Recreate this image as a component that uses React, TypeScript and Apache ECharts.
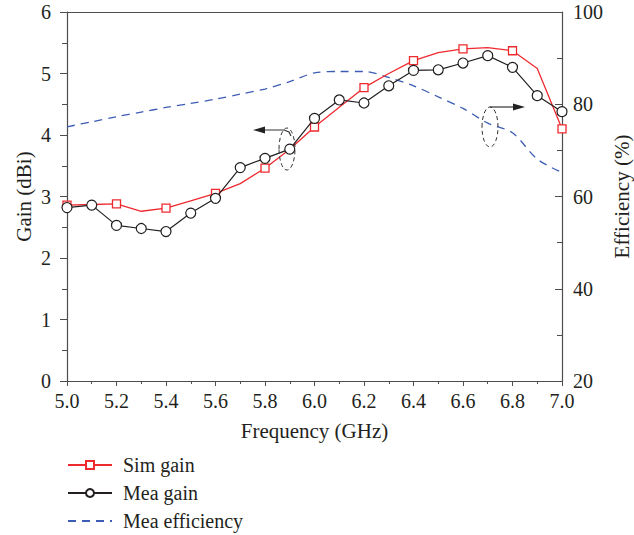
import React, { useEffect, useRef } from "react";
import * as echarts from "echarts";

const freq = [5.0, 5.1, 5.2, 5.3, 5.4, 5.5, 5.6, 5.7, 5.8, 5.9, 6.0, 6.1, 6.2, 6.3, 6.4, 6.5, 6.6, 6.7, 6.8, 6.9, 7.0];
const simGain = [2.86, 2.87, 2.88, 2.76, 2.81, 2.93, 3.05, 3.21, 3.46, 3.77, 4.13, 4.45, 4.77, 5.0, 5.21, 5.34, 5.4, 5.42, 5.37, 5.08, 4.1];
const meaGain = [2.82, 2.86, 2.53, 2.48, 2.43, 2.73, 2.97, 3.47, 3.62, 3.77, 4.27, 4.57, 4.52, 4.8, 5.05, 5.06, 5.17, 5.29, 5.1, 4.64, 4.38];
const meaEff = [75.1, 76.2, 77.3, 78.3, 79.3, 80.2, 81.1, 82.2, 83.3, 84.9, 86.8, 87.1, 87.1, 85.8, 84.0, 81.6, 79.1, 75.9, 73.8, 68.1, 65.2];
const seriesNames = ["Sim gain", "Mea gain", "Mea efficiency"];

const FONT = "'Liberation Serif', 'Times New Roman', serif";
const TXT = "#231f20";
const AX = "#4d4d4d";
const RED = "#ee2a2f";
const BLK = "#231f20";
const BLUE = "#3d5cb4";

export default function App() {
  const ref = useRef<HTMLDivElement>(null);
  useEffect(() => {
    if (!ref.current) return;
    const chart = echarts.init(ref.current, null, { renderer: "svg", width: 634, height: 535 });
    const axisLabel = { color: TXT, fontFamily: FONT, fontSize: 20 };
    const nameStyle = { color: TXT, fontFamily: FONT, fontSize: 21 };
    const dash = { stroke: "#333", lineWidth: 1, lineDash: [4, 3], fill: "none" };
    const solid = { stroke: "#333", lineWidth: 1.2, fill: "none" };
    chart.setOption({
      animation: false,
      backgroundColor: "#fff",
      grid: { left: 67, right: 72, top: 12, bottom: 154, containLabel: false, outerBoundsMode: "none" },
      legend: {
        orient: "vertical",
        left: 67,
        top: 454,
        padding: 0,
        itemWidth: 44,
        itemHeight: 10,
        itemGap: 6,
        textStyle: { color: TXT, fontFamily: FONT, fontSize: 20, lineHeight: 22, padding: [0, 0, 0, 6] },
        data: seriesNames,
      },
      xAxis: [
        {
          type: "value",
          min: 5,
          max: 7,
          interval: 0.2,
          name: "Frequency (GHz)",
          nameLocation: "middle",
          nameGap: 39,
          nameMoveOverlap: false,
          nameTextStyle: nameStyle,
          axisLine: { lineStyle: { color: AX, width: 1.2 } },
          axisTick: { inside: false, length: 5, lineStyle: { color: AX } },
          minorTick: { show: true, splitNumber: 2, length: 3, lineStyle: { color: AX } },
          axisLabel: { ...axisLabel, margin: 10, formatter: (v: number) => v.toFixed(1) },
          splitLine: { show: false },
        },
        {
          type: "value",
          position: "top",
          min: 5,
          max: 7,
          axisLine: { show: true, lineStyle: { color: AX, width: 1.2 } },
          axisTick: { show: false },
          axisLabel: { show: false },
          splitLine: { show: false },
        },
      ],
      yAxis: [
        {
          type: "value",
          min: 0,
          max: 6,
          interval: 1,
          name: "Gain (dBi)",
          nameLocation: "middle",
          nameGap: 33,
          nameMoveOverlap: false,
          nameTextStyle: nameStyle,
          axisLine: { show: true, lineStyle: { color: AX, width: 1.2 } },
          axisTick: { inside: false, length: 7, lineStyle: { color: AX } },
          minorTick: { show: true, splitNumber: 2, length: 5, lineStyle: { color: AX } },
          axisLabel: { ...axisLabel, margin: 16 },
          splitLine: { show: false },
        },
        {
          type: "value",
          min: 20,
          max: 100,
          interval: 20,
          position: "right",
          name: "Efficiency (%)",
          nameLocation: "middle",
          nameGap: 49,
          nameMoveOverlap: false,
          nameTextStyle: nameStyle,
          axisLine: { show: true, lineStyle: { color: AX, width: 1.2 } },
          axisTick: { inside: true, length: 7, lineStyle: { color: AX } },
          minorTick: { show: true, splitNumber: 2, length: 5, lineStyle: { color: AX } },
          axisLabel: { ...axisLabel, margin: 11 },
          splitLine: { show: false },
        },
      ],
      series: [
        {
          name: seriesNames[0],
          type: "line",
          xAxisIndex: 0,
          yAxisIndex: 0,
          symbol: "rect",
          symbolSize: 8,
          z: 3,
          lineStyle: { color: RED, width: 1.3 },
          itemStyle: { color: "#fff", borderColor: RED, borderWidth: 1.3 },
          data: freq.map((f, i) => (i % 2 === 0 ? { value: [f, simGain[i]] } : { value: [f, simGain[i]], symbol: "none" })),
        },
        {
          name: seriesNames[1],
          type: "line",
          xAxisIndex: 0,
          yAxisIndex: 0,
          symbol: "circle",
          symbolSize: 10,
          z: 4,
          lineStyle: { color: BLK, width: 1.2 },
          itemStyle: { color: "#fff", borderColor: BLK, borderWidth: 1.2 },
          data: freq.map((f, i) => [f, meaGain[i]]),
        },
        {
          name: seriesNames[2],
          type: "line",
          xAxisIndex: 0,
          yAxisIndex: 1,
          symbol: "none",
          smooth: 0.3,
          z: 2,
          lineStyle: { color: BLUE, width: 1.3, type: [8, 6] },
          itemStyle: { color: "transparent", borderColor: "transparent", borderWidth: 0 },
          data: freq.map((f, i) => [f, meaEff[i]]),
        },
      ],
      graphic: [
        { type: "ellipse", shape: { cx: 287, cy: 149, rx: 8, ry: 21 }, style: dash, z: 10 },
        { type: "polyline", shape: { points: [[262, 130], [284, 130], [289, 132], [291, 136]] }, style: solid, z: 10 },
        { type: "polygon", shape: { points: [[253, 130], [265, 126.5], [265, 133.5]] }, style: { fill: "#222" }, z: 10 },
        { type: "ellipse", shape: { cx: 490, cy: 127, rx: 8, ry: 20 }, style: dash, z: 10 },
        { type: "line", shape: { x1: 490, y1: 107, x2: 515, y2: 107 }, style: solid, z: 10 },
        { type: "polygon", shape: { points: [[525, 107], [513, 103.5], [513, 110.5]] }, style: { fill: "#222" }, z: 10 },
      ],
    });
    return () => chart.dispose();
  }, []);
  return <div ref={ref} style={{ position: "fixed", left: 0, top: 0, width: 634, height: 535, background: "#fff" }} />;
}
